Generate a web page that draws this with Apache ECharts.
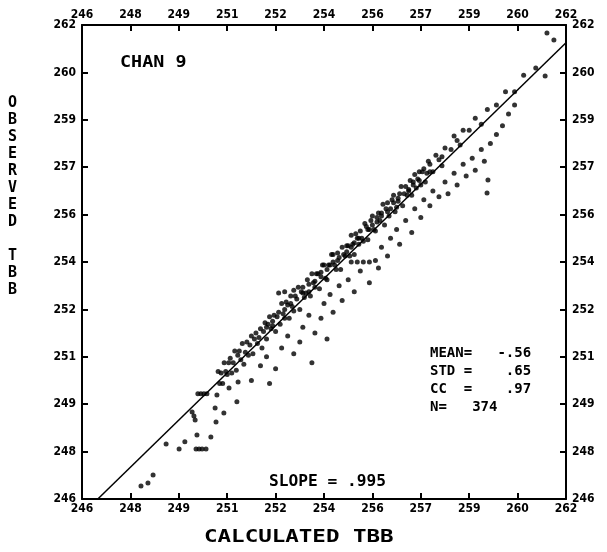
<!DOCTYPE html>
<html>
<head>
<meta charset="utf-8">
<script src="https://cdn.jsdelivr.net/npm/echarts@6/dist/echarts.min.js"></script>
<style>
  html, body { margin: 0; padding: 0; background: #ffffff; }
  #chart { width: 607px; height: 552px; }
</style>
</head>
<body>
<div id="chart"></div>
<script>
// Axis range and tick marks (ticks every 1.6 K, labels rounded to whole degrees)
const axisMin = 246;
const axisMax = 262;
const tickValues = [246, 247.6, 249.2, 250.8, 252.4, 254, 255.6, 257.2, 258.8, 260.4, 262];
const tickLabels = ['246', '248', '249', '251', '252', '254', '256', '257', '259', '260', '262'];

// Regression fit of observed vs calculated brightness temperature
const fitSlope = 0.995;
const fitIntercept = 0.71;

// Text printed inside the plot
const statLines = ['MEAN=   -.56', 'STD =    .65', 'CC  =    .97', 'N=   374'];
const slopeText = 'SLOPE = .995';
const channelText = 'CHAN 9';

// Calculated TBB (x) and observed TBB (y) pairs
const calculatedTBB = [
  // low end
  247.95, 248.18, 248.35, 248.78, 249.21, 249.40, 249.80, 249.77, 249.87, 249.97,
  250.10, 250.26, 250.43, 250.69, 250.40, 250.46, 250.86, 251.12, 251.16, 249.83,
  249.93, 250.03, 250.13, 249.64, 249.70, 249.74,
  // main band
  250.50, 250.55, 250.60, 250.65, 250.70, 250.75, 250.80, 250.85, 250.90, 250.95,
  251.00, 251.05, 251.10, 251.15, 251.20, 251.25, 251.30, 251.35, 251.40, 251.45,
  251.50, 251.55, 251.60, 251.65, 251.70, 251.75, 251.80, 251.85, 251.90, 251.95,
  252.00, 252.05, 252.10, 252.15, 252.20, 252.25, 252.30, 252.35, 252.40, 252.45,
  252.50, 252.55, 252.60, 252.65, 252.70, 252.75, 252.80, 252.85, 252.90, 252.95,
  253.00, 253.05, 253.10, 253.15, 253.20, 253.25, 253.30, 253.35, 253.40, 253.45,
  253.50, 253.55, 253.60, 253.65, 253.70, 253.75, 253.80, 253.85, 253.90, 253.95,
  254.00, 254.05, 254.10, 254.15, 254.20, 254.25, 254.30, 254.35, 254.40, 254.45,
  254.50, 254.55, 254.60, 254.65, 254.70, 254.75, 254.80, 254.85, 254.90, 254.95,
  255.00, 255.05, 255.10, 255.15, 255.20, 255.25, 255.30, 255.35, 255.40, 255.45,
  255.50, 255.55, 255.60, 255.65, 255.70, 255.75, 255.80, 255.85, 255.90, 255.95,
  256.00, 256.05, 256.10, 256.15, 256.20, 256.25, 256.30, 256.35, 256.40, 256.45,
  256.50, 256.55, 256.60, 256.65, 256.70, 256.75, 256.80, 256.85, 256.90, 256.95,
  257.00, 257.05, 257.10, 257.15, 257.20, 257.25, 257.30, 257.35, 257.40, 257.45,
  257.50, 257.60, 257.70, 257.80, 257.90, 258.00, 258.20, 258.30, 258.50, 258.60,
  258.80, 259.00, 259.20, 259.40, 259.70, 260.00, 260.30, 260.60, 261.00, 261.31,
  261.37, 261.60,
  // band core
  252.3, 252.9, 253.3, 253.7, 254.1, 254.45, 254.75, 255.15, 255.45, 255.75,
  256.1, 256.45, 256.8, 257.15, 253.5, 254.3, 255.0, 255.6, 256.3, 256.95,
  252.1, 252.7, 253.9, 254.9, 255.9, 257.5, 257.9, 258.4,
  // below the fit
  251.6, 251.9, 252.1, 252.4, 252.6, 252.8, 253.0, 253.2, 253.3, 253.5,
  253.7, 253.9, 254.0, 254.2, 254.3, 254.5, 254.6, 254.8, 254.9, 255.1,
  255.3, 255.5, 255.7, 255.0, 255.2, 255.5, 255.8, 255.9, 256.1, 256.2,
  256.4, 256.5, 256.7, 256.9, 257.0, 257.2, 257.3, 257.5, 257.6, 257.8,
  258.0, 258.1, 258.3, 258.4, 258.6, 258.7, 258.9, 259.0, 259.2, 259.39,
  259.42, 259.3, 259.5, 259.7, 259.9, 260.1, 260.3, 253.6, 254.1, 252.2,
  // above the fit
  253.0, 252.7, 252.5
];
const observedTBB = [
  // low end
  246.44, 246.54, 246.81, 247.86, 247.69, 247.93, 248.16, 247.69, 247.69, 247.69,
  247.69, 248.09, 248.60, 248.90, 249.07, 249.51, 249.75, 249.28, 249.95, 249.55,
  249.55, 249.55, 249.55, 248.94, 248.80, 248.67,
  // main band
  250.30, 249.90, 250.25, 249.90, 250.60, 250.30, 250.20, 250.60, 250.75, 250.25,
  250.60, 251.00, 250.35, 250.85, 251.00, 250.70, 251.25, 250.55, 250.95, 251.30,
  250.85, 251.20, 251.50, 250.90, 251.40, 251.60, 251.25, 251.45, 251.75, 251.10,
  251.65, 251.95, 251.40, 251.90, 252.15, 251.75, 251.85, 252.20, 251.65, 252.15,
  252.30, 251.90, 252.60, 252.25, 252.10, 252.65, 252.55, 252.10, 252.85, 252.50,
  252.35, 252.85, 252.75, 253.15, 252.40, 253.00, 253.15, 252.80, 252.95, 253.40,
  253.25, 252.85, 253.60, 253.30, 253.15, 253.60, 253.60, 253.10, 253.50, 253.90,
  253.90, 253.45, 253.40, 253.90, 253.90, 254.25, 254.25, 253.90, 253.75, 254.30,
  254.15, 253.75, 254.50, 254.25, 254.20, 254.55, 254.55, 254.20, 254.90, 254.60,
  254.25, 254.95, 254.80, 254.60, 255.05, 254.80, 254.70, 255.30, 255.20, 254.75,
  255.10, 255.40, 255.55, 255.10, 255.05, 255.50, 255.65, 255.40, 255.55, 255.95,
  255.25, 255.80, 256.00, 255.55, 255.80, 256.10, 256.25, 255.70, 255.85, 256.15,
  256.30, 256.55, 255.90, 256.30, 256.55, 256.25, 256.45, 256.75, 256.25, 256.70,
  256.95, 256.50, 256.80, 257.05, 256.60, 257.05, 257.15, 256.70, 257.00, 257.40,
  257.30, 257.05, 257.60, 257.45, 257.25, 257.85, 257.80, 258.25, 257.95, 258.45,
  258.45, 258.85, 258.65, 259.15, 259.30, 259.75, 259.75, 260.30, 260.55, 260.28,
  261.73, 261.49,
  // band core
  252.0, 252.6, 252.95, 253.35, 253.75, 254.05, 254.35, 254.8, 255.1, 255.35,
  255.7, 256.05, 256.4, 256.75, 253.0, 254.0, 254.65, 255.25, 256.0, 256.6,
  251.8, 252.4, 253.65, 254.5, 255.65, 257.05, 257.55, 258.1,
  // below the fit
  250.0, 250.5, 250.8, 250.4, 251.1, 251.5, 250.9, 251.3, 251.8, 252.2,
  251.6, 252.1, 252.6, 252.9, 252.3, 253.2, 252.7, 253.4, 254.0, 254.0,
  254.0, 254.0, 254.05, 253.0, 253.7, 253.3, 253.8, 254.5, 254.2, 254.8,
  255.1, 254.6, 255.4, 255.0, 255.8, 255.5, 256.1, 255.9, 256.4, 256.2,
  256.7, 256.3, 257.0, 256.6, 257.3, 256.9, 257.5, 257.1, 257.8, 256.33,
  256.77, 257.4, 258.0, 258.3, 258.6, 259.0, 259.3, 250.6, 251.4, 249.9,
  // above the fit
  253.05, 253.0, 252.95
];

const scatterData = calculatedTBB.map((x, i) => [x, observedTBB[i]]);
const fitLine = [
  [(axisMin - fitIntercept) / fitSlope, axisMin],
  [axisMax, fitSlope * axisMax + fitIntercept]
];

const labelFont = {
  color: '#000',
  fontFamily: 'DejaVu Sans Condensed',
  fontWeight: 'bold',
  fontSize: 12
};

function makeAxis(position, isX) {
  return {
    type: 'value',
    position: position,
    min: axisMin,
    max: axisMax,
    splitLine: { show: false },
    axisLine: { show: true, onZero: false, lineStyle: { color: '#000', width: 2 } },
    axisTick: {
      show: true,
      inside: true,
      length: 6,
      customValues: tickValues,
      lineStyle: { color: '#000', width: 2 }
    },
    axisLabel: Object.assign({
      show: true,
      margin: isX ? 4 : 6,
      customValues: tickValues,
      formatter: v => {
        const i = tickValues.findIndex(t => Math.abs(t - v) < 1e-6);
        return i >= 0 ? tickLabels[i] : '';
      }
    }, labelFont)
  };
}

const chart = echarts.init(document.getElementById('chart'), null, { renderer: 'canvas' });

chart.setOption({
  animation: false,
  backgroundColor: '#ffffff',
  grid: { left: 82, top: 25, width: 484, height: 474, containLabel: false },
  xAxis: [makeAxis('bottom', true), makeAxis('top', true)],
  yAxis: [makeAxis('left', false), makeAxis('right', false)],
  series: [
    {
      type: 'scatter',
      xAxisIndex: 0,
      yAxisIndex: 0,
      data: scatterData,
      symbol: 'circle',
      symbolSize: 5,
      itemStyle: { color: '#000' },
      silent: true
    },
    {
      type: 'line',
      xAxisIndex: 0,
      yAxisIndex: 0,
      data: fitLine,
      showSymbol: false,
      clip: true,
      lineStyle: { color: '#000', width: 1.5 },
      silent: true
    }
  ],
  graphic: [
    {
      type: 'text',
      x: 120, y: 55,
      scaleX: 1.15,
      style: { text: channelText, fill: '#000', font: 'bold 16px "DejaVu Sans Mono"' }
    },
    {
      type: 'text',
      x: 430, y: 344,
      style: {
        text: statLines.join('\n'),
        fill: '#000',
        font: 'bold 14px "DejaVu Sans Mono"',
        lineHeight: 18
      }
    },
    {
      type: 'text',
      x: 269, y: 475,
      scaleX: 1.08,
      style: { text: slopeText, fill: '#000', font: 'bold 15px "DejaVu Sans Mono"' }
    },
    {
      type: 'text',
      x: 204, y: 528,
      scaleX: 1.25,
      style: { text: 'CALCULATED TBB', fill: '#000', font: 'bold 18px "DejaVu Sans Mono"' }
    },
    {
      type: 'text',
      x: 8, y: 95,
      style: {
        text: 'O\nB\nS\nE\nR\nV\nE\nD\n\nT\nB\nB',
        fill: '#000',
        font: 'bold 15px "DejaVu Sans Mono"',
        lineHeight: 17
      }
    }
  ]
});
</script>
</body>
</html>
